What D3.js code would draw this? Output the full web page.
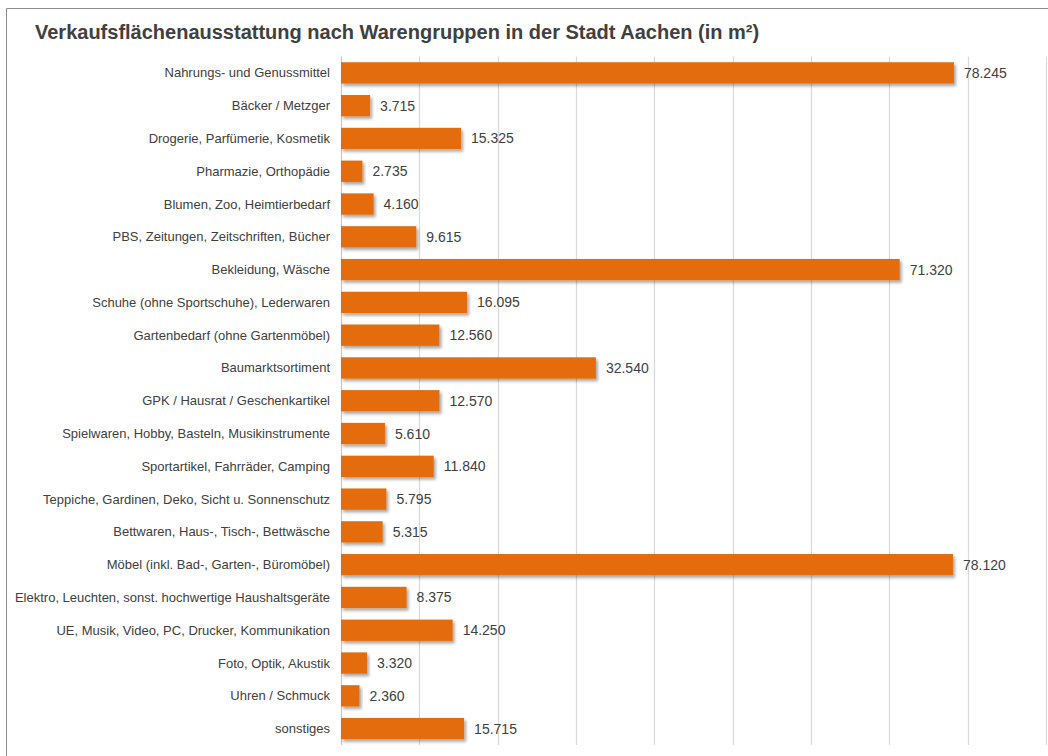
<!DOCTYPE html>
<html>
<head>
<meta charset="utf-8">
<script src="https://cdn.jsdelivr.net/npm/d3@7"></script>
<style>
  html, body { margin: 0; padding: 0; background: #fff; }
  svg { display: block; font-family: "Liberation Sans", Arial, sans-serif; }
</style>
</head>
<body>
<svg id="chart"></svg>
<script>
"use strict";

// ---------- data ----------
const categories = [
  "Nahrungs- und Genussmittel",
  "Bäcker / Metzger",
  "Drogerie, Parfümerie, Kosmetik",
  "Pharmazie, Orthopädie",
  "Blumen, Zoo, Heimtierbedarf",
  "PBS, Zeitungen, Zeitschriften, Bücher",
  "Bekleidung, Wäsche",
  "Schuhe (ohne Sportschuhe), Lederwaren",
  "Gartenbedarf (ohne Gartenmöbel)",
  "Baumarktsortiment",
  "GPK / Hausrat / Geschenkartikel",
  "Spielwaren, Hobby, Basteln, Musikinstrumente",
  "Sportartikel, Fahrräder, Camping",
  "Teppiche, Gardinen, Deko, Sicht u. Sonnenschutz",
  "Bettwaren, Haus-, Tisch-, Bettwäsche",
  "Möbel (inkl. Bad-, Garten-, Büromöbel)",
  "Elektro, Leuchten, sonst. hochwertige Haushaltsgeräte",
  "UE, Musik, Video, PC, Drucker, Kommunikation",
  "Foto, Optik, Akustik",
  "Uhren / Schmuck",
  "sonstiges"
];
const values = [78245, 3715, 15325, 2735, 4160, 9615, 71320, 16095, 12560, 32540,
  12570, 5610, 11840, 5795, 5315, 78120, 8375, 14250, 3320, 2360, 15715];
const gridTicks = [0, 10000, 20000, 30000, 40000, 50000, 60000, 70000, 80000, 90000];

const W = 1048, H = 756;
const plot = { left: 341, right: 1046, top: 56.5, bottom: 745 };

const svg = d3.select("#chart").attr("width", W).attr("height", H);

// shadow under the bars
const defs = svg.append("defs");
const f = defs.append("filter").attr("id", "shadow")
  .attr("x", "-5%").attr("y", "-20%").attr("width", "120%").attr("height", "160%");
f.append("feDropShadow")
  .attr("dx", 2).attr("dy", 2.5).attr("stdDeviation", 1.4)
  .attr("flood-color", "#000").attr("flood-opacity", 0.35);

// outer frame (left + top edges visible)
svg.append("path")
  .attr("d", `M6.5,${H} V8.5 H${W}`)
  .attr("fill", "none").attr("stroke", "#8c8c8c").attr("stroke-width", 1);

// title
svg.append("text")
  .attr("x", 35).attr("y", 39)
  .attr("fill", "#404040")
  .style("font-size", "20px").style("font-weight", "700")
  .text("Verkaufsflächenausstattung nach Warengruppen in der Stadt Aachen (in m²)");

// scales
const x = d3.scaleLinear().domain([0, 90000]).range([plot.left, plot.right]);
const y = d3.scaleBand().domain(categories).range([plot.top, plot.bottom]).paddingInner(0.35).paddingOuter(0.175);

// gridlines
svg.append("g").selectAll("line")
  .data(gridTicks).join("line")
  .attr("x1", d => Math.round(x(d)) + 0.5).attr("x2", d => Math.round(x(d)) + 0.5)
  .attr("y1", plot.top).attr("y2", plot.bottom)
  .attr("stroke", d => d === 0 ? "#c8c8c8" : "#d9d9d9").attr("stroke-width", 1.2);

// category labels
svg.append("g").selectAll("text")
  .data(categories).join("text")
  .attr("x", 330).attr("y", d => y(d) + y.bandwidth() / 2 + 4.5)
  .attr("text-anchor", "end")
  .attr("fill", "#404040")
  .style("font-size", "13px")
  .text(d => d);

// bars
svg.append("g").selectAll("rect")
  .data(values).join("rect")
  .attr("x", x(0))
  .attr("y", (d, i) => y(categories[i]))
  .attr("width", d => x(d) - x(0))
  .attr("height", y.bandwidth())
  .attr("fill", "#e46c0a")
  .attr("filter", "url(#shadow)");

// value labels
const fmt = d3.formatLocale({ decimal: ",", thousands: ".", grouping: [3] }).format(",");
svg.append("g").selectAll("text")
  .data(values).join("text")
  .attr("x", d => x(d) + 10)
  .attr("y", (d, i) => y(categories[i]) + y.bandwidth() / 2 + 5)
  .attr("fill", "#404040")
  .style("font-size", "14px")
  .text(d => fmt(d));
</script>
</body>
</html>
